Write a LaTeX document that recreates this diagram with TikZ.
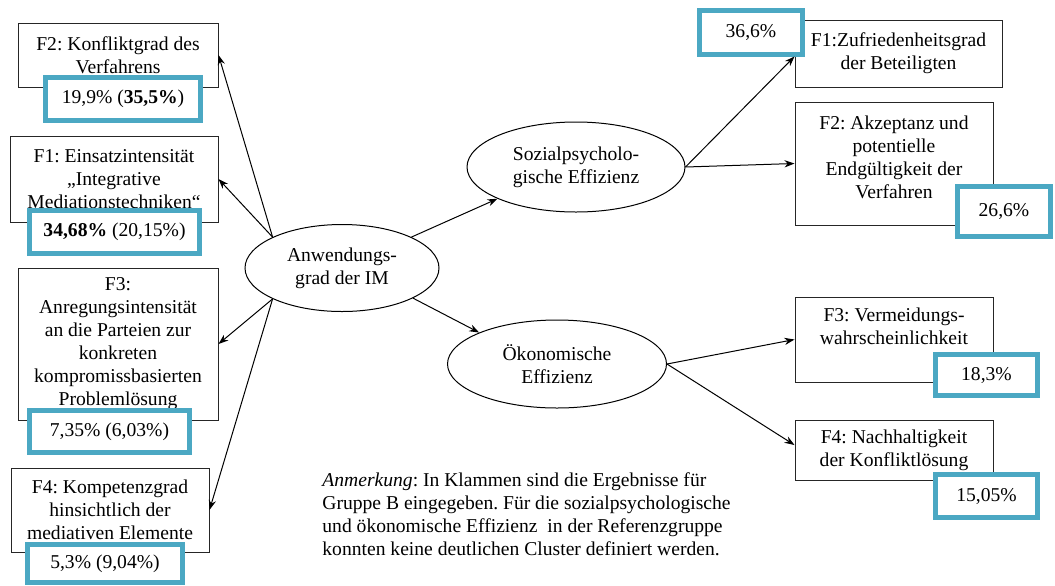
\documentclass[tikz,border=0pt]{standalone}
\usepackage{fontspec}
\setmainfont{Liberation Serif}
\usetikzlibrary{shapes.geometric,arrows.meta}
\definecolor{tuerkis}{RGB}{75,168,195}
\frenchspacing

\begin{document}
\begin{tikzpicture}[x=0.5pt, y=-0.5pt, >={Stealth[length=5pt,width=3.6pt]},
    font=\fontsize{9.8}{11.5}\selectfont,
    feld/.style={draw=black!85, line width=0.5pt, align=center, inner sep=1pt},
    wert/.style={draw=tuerkis, line width=2.5pt, fill=white, align=center, inner sep=0pt},
    oval/.style={draw, ellipse, line width=0.5pt, align=center, inner sep=0pt}]
    \useasboundingbox (0,0) rectangle (1055,585);
    % linke Seite
    \node[feld, minimum width=100pt, minimum height=32pt] (konflikt) at (118,55) {F2: Konfliktgrad des\\Verfahrens};
    \node[feld, minimum width=104pt, minimum height=43pt] (einsatz) at (114,179) {F1: Einsatzintensität\\„Integrative\\Mediationstechniken“};
    \node[feld, minimum width=100pt, minimum height=76pt] (anregung) at (118,344) {F3:\\Anregungsintensität\\an die Parteien zur\\konkreten\\kompromissbasierten\\Problemlösung};
    \node[feld, minimum width=99pt, minimum height=42pt] (kompetenz) at (110,510) {F4: Kompetenzgrad\\hinsichtlich der\\mediativen Elemente};
    \node[wert, minimum width=77.5pt, minimum height=21.5pt] (konfliktw) at (123,99) {19,9\% (\textbf{35,5\%})};
    \node[wert, minimum width=85pt, minimum height=21.5pt] (einsatzw) at (114.5,232) {\textbf{34,68\%} (20,15\%)};
    \node[wert, minimum width=80pt, minimum height=21pt] (anregungw) at (109.5,431.5) {7,35\% (6,03\%)};
    \node[wert, minimum width=77.5pt, minimum height=19pt] (kompetenzw) at (105,563.5) {5,3\% (9,04\%)};
    % Mitte
    \node[oval, minimum width=97pt, minimum height=43.5pt] (anw) at (342,268) {Anwendungs-\\grad der IM};
    \node[oval, minimum width=109pt, minimum height=45pt] (sozial) at (576,167) {Sozialpsycholo-\\gische Effizienz};
    \node[oval, minimum width=109.5pt, minimum height=44pt] (oeko) at (557,364) {Ökonomische\\Effizienz};
    % rechte Seite
    \node[feld, minimum width=103.5pt, minimum height=33.5pt] (zufrieden) at (898.5,53.5) {F1:Zufriedenheitsgrad\\der Beteiligten};
    \node[feld, minimum width=99pt, minimum height=61.5pt, text depth=6pt] (akzeptanz) at (894,163.5) {F2: Akzeptanz und\\potentielle\\Endgültigkeit der\\Verfahren};
    \node[feld, minimum width=99pt, minimum height=42.5pt, text depth=13pt] (vermeidung) at (894,339.5) {F3: Vermeidungs-\\wahrscheinlichkeit};
    \node[feld, minimum width=99pt, minimum height=30pt] (nachhalt) at (894,450) {F4: Nachhaltigkeit\\der Konfliktlösung};
    \node[wert, minimum width=51.5pt, minimum height=22pt] (zufriedenw) at (751,32.5) {36,6\%};
    \node[wert, minimum width=46.5pt, minimum height=25pt] (akzeptanzw) at (1004,211.5) {26,6\%};
    \node[wert, minimum width=51pt, minimum height=20.5pt] (vermeidungw) at (986.5,375) {18,3\%};
    \node[wert, minimum width=51pt, minimum height=21.5pt] (nachhaltw) at (986.5,496) {15,05\%};
    % Pfeile
    \draw[->, line width=0.5pt] (anw.156) -- (konflikt.east);
    \draw[->, line width=0.5pt] (anw.156) -- (einsatz.east);
    \draw[->, line width=0.5pt] (anw.204) -- (anregung.east);
    \draw[->, line width=0.5pt] (anw.204) -- (kompetenz.east);
    \draw[->, line width=0.5pt] (anw.24) -- (sozial.202);
    \draw[->, line width=0.5pt] (anw.337) -- (oeko.158);
    \draw[->, line width=0.5pt] (sozial.east) -- ([yshift=-1.5pt]zufrieden.west);
    \draw[->, line width=0.5pt] (sozial.east) -- (akzeptanz.west);
    \draw[->, line width=0.5pt] (oeko.east) -- (vermeidung.west);
    \draw[->, line width=0.5pt] (oeko.east) -- ([yshift=2.5pt]nachhalt.west);
    \node[anchor=north west, align=left, inner sep=0pt] (anm) at (322,472) {\textit{Anmerkung}: In Klammen sind die Ergebnisse für\\Gruppe B eingegeben. Für die sozialpsychologische\\und ökonomische Effizienz~ in der Referenzgruppe\\konnten keine deutlichen Cluster definiert werden.};
\end{tikzpicture}
\end{document}
